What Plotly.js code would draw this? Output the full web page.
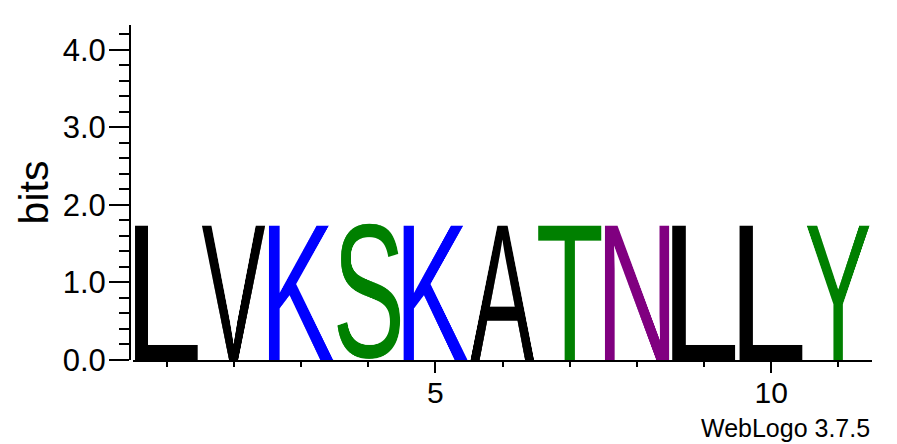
<!DOCTYPE html>
<html>
<head>
<meta charset="utf-8">
<script src="https://cdn.plot.ly/plotly-3.0.1.min.js"></script>
<style>
  html, body { margin: 0; padding: 0; background: white; }
  #logo { width: 897px; height: 444px; }
</style>
</head>
<body>
<div id="logo"></div>
<script>
// sequence logo columns
var positions = [1, 2, 3, 4, 5, 6, 7, 8, 9, 10, 11];
var residues  = ['L', 'V', 'K', 'S', 'K', 'A', 'T', 'N', 'L', 'L', 'Y'];
var bits      = [1.77, 1.77, 1.77, 1.77, 1.77, 1.77, 1.77, 1.77, 1.77, 1.77, 1.77];
var yTicks    = [0, 1, 2, 3, 4];
var xTicks    = [5, 10];

// weblogo "chemistry" colours
var scheme = {
    G: 'green', S: 'green', T: 'green', Y: 'green', C: 'green',
    N: 'purple', Q: 'purple',
    K: 'blue', R: 'blue', H: 'blue',
    D: 'red', E: 'red',
    P: 'black', A: 'black', W: 'black', F: 'black', L: 'black',
    I: 'black', M: 'black', V: 'black'
};
var fontFamily = '"Liberation Sans", Arial, Helvetica, sans-serif';

// render a glyph stretched so its ink fills the whole canvas
function glyphImage(ch, color) {
    var W = 260, H = 520;
    var c = document.createElement('canvas');
    c.width = W; c.height = H;
    var ctx = c.getContext('2d');
    ctx.font = '400px "Liberation Sans", Arial, sans-serif';
    ctx.textAlign = 'left';
    ctx.textBaseline = 'alphabetic';
    var m = ctx.measureText(ch);
    var l = m.actualBoundingBoxLeft, r = m.actualBoundingBoxRight;
    var a = m.actualBoundingBoxAscent, d = m.actualBoundingBoxDescent;
    var sx = W / (l + r), sy = H / (a + d);
    ctx.setTransform(sx, 0, 0, sy, l * sx, a * sy);
    ctx.fillStyle = color;
    ctx.fillText(ch, 0, 0);
    return c.toDataURL('image/png');
}

var colWidth = 0.96;
var images = [];
for (var i = 0; i < positions.length; i++) {
    images.push({
        source: glyphImage(residues[i], scheme[residues[i]]),
        xref: 'x', yref: 'y',
        x: positions[i] - colWidth / 2,
        y: bits[i],
        sizex: colWidth,
        sizey: bits[i],
        xanchor: 'left', yanchor: 'top',
        sizing: 'stretch',
        layer: 'above'
    });
}

// invisible trace so the axes exist
var data = [{
    x: positions, y: bits, type: 'scatter', mode: 'markers',
    marker: {opacity: 0}, hoverinfo: 'skip', showlegend: false
}];

var layout = {
    width: 897, height: 444,
    margin: {l: 130, r: 25, t: 25, b: 84},
    paper_bgcolor: 'white',
    plot_bgcolor: 'white',
    font: {family: fontFamily, color: 'black'},
    xaxis: {
        domain: [3 / 742, 1],
        range: [0.5, 11.5],
        tickmode: 'array',
        tickvals: xTicks,
        ticks: 'outside', ticklen: 11, tickwidth: 2, tickcolor: 'black',
        tickfont: {size: 30, family: fontFamily},
        ticklabelstandoff: -6,
        showline: true, linecolor: 'black', linewidth: 2,
        showgrid: false, zeroline: false,
        minor: {dtick: 1, tick0: 0, ticks: 'outside', ticklen: 5, tickwidth: 2, tickcolor: 'black', showgrid: false}
    },
    yaxis: {
        anchor: 'free', position: 0,
        range: [0, 4.32],
        tickmode: 'array',
        tickvals: yTicks,
        tickformat: '.1f',
        ticks: 'outside', ticklen: 20, tickwidth: 2, tickcolor: 'black',
        tickfont: {size: 31, family: fontFamily},
        ticklabelstandoff: -3,
        showline: true, linecolor: 'black', linewidth: 2,
        showgrid: false, zeroline: false,
        minor: {dtick: 0.2, tick0: 0, ticks: 'outside', ticklen: 10, tickwidth: 2, tickcolor: 'black', showgrid: false},
        title: {text: 'bits', font: {size: 41, family: fontFamily}, standoff: 0}
    },
    images: images,
    annotations: [{
        text: 'WebLogo 3.7.5',
        xref: 'paper', yref: 'paper',
        x: 1, y: -0.203,
        xanchor: 'right', yanchor: 'middle',
        showarrow: false,
        font: {size: 25, family: fontFamily, color: 'black'}
    }]
};

Plotly.newPlot('logo', data, layout, {displayModeBar: false, staticPlot: true});
</script>
</body>
</html>
